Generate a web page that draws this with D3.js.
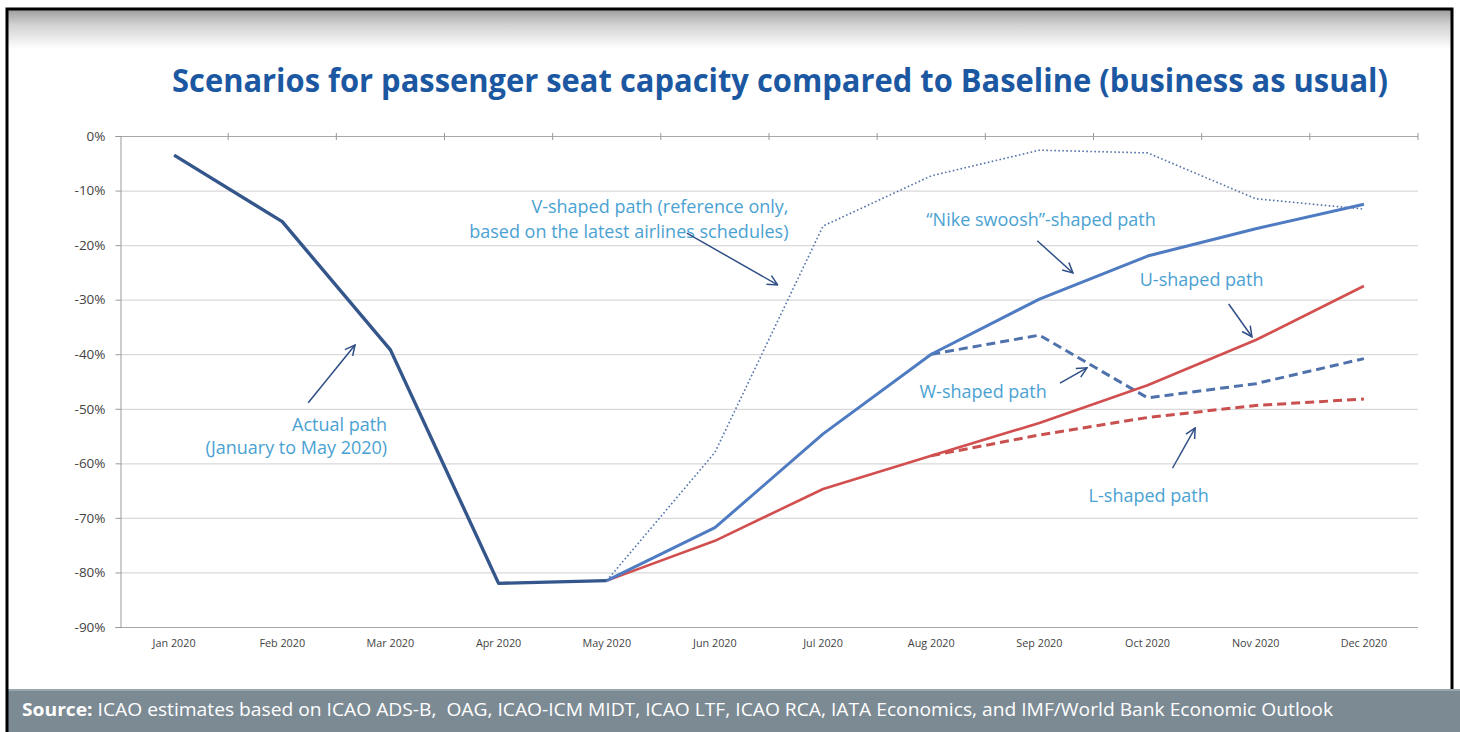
<!DOCTYPE html>
<html>
<head>
<meta charset="utf-8">
<script src="https://cdn.jsdelivr.net/npm/d3@7"></script>
<style>
  body { margin: 0; background: #fff; }
  svg { display: block; }
  .tick-label { font-family: "Open Sans", sans-serif; fill: #444; }
  .note { font-family: "Open Sans", sans-serif; font-size: 18px; fill: #4aa2d3; }
</style>
</head>
<body>
<svg id="chart" width="1460" height="732"></svg>
<script>
const months = ["Jan 2020", "Feb 2020", "Mar 2020", "Apr 2020", "May 2020", "Jun 2020",
  "Jul 2020", "Aug 2020", "Sep 2020", "Oct 2020", "Nov 2020", "Dec 2020"]
const yTicks = [0, -10, -20, -30, -40, -50, -60, -70, -80, -90]

// values in % vs baseline, first month index given by start
const actualPath = [-3.5, -15.7, -39.2, -82.0, -81.5] // Jan-May
const vShaped = [-81.5, -58.0, -16.5, -7.3, -2.6, -3.1, -11.5, -13.4] // May-Dec
const nikeSwoosh = [-81.5, -71.8, -54.6, -40.0, -29.9, -22.0, -17.0, -12.5] // May-Dec
const uShaped = [-81.5, -74.2, -64.7, -58.6, -52.6, -45.7, -37.4, -27.5] // May-Dec
const wShaped = [-40.0, -36.5, -48.0, -45.4, -40.8] // Aug-Dec
const lShaped = [-58.6, -54.8, -51.6, -49.4, -48.2] // Aug-Dec

const series = [
  { name: "V", values: vShaped, start: 4, color: "#5272aa", width: 1.6, dash: "1.6,2.4" },
  { name: "L", values: lShaped, start: 7, color: "#c9504e", width: 3, dash: "9,5" },
  { name: "W", values: wShaped, start: 7, color: "#4f72ad", width: 3, dash: "9,5" },
  { name: "U", values: uShaped, start: 4, color: "#d24f4f", width: 2.6, dash: null },
  { name: "Nike", values: nikeSwoosh, start: 4, color: "#4e7bc1", width: 3, dash: null },
  { name: "Actual", values: actualPath, start: 0, color: "#34568b", width: 3.4, dash: null },
]

// annotations in (month index, value) space
const notes = [
  { lines: ["Actual path", "(January to May 2020)"], x: 1.97, y: [-53.0, -57.2], anchor: "end", arrow: [[1.24, -48.9], [1.673, -38.3]] },
  { lines: ["V-shaped path (reference only,", "based on the latest airlines schedules)"], x: 5.68, y: [-13.0, -17.6], anchor: "end", arrow: [[4.74, -17.8], [5.58, -27.3]] },
  { lines: ["\u201cNike swoosh\u201d-shaped path"], x: 8.015, y: [-15.4], anchor: "middle", arrow: [[7.98, -19.2], [8.31, -25.1]] },
  { lines: ["U-shaped path"], x: 9.5, y: [-26.4], anchor: "middle", arrow: [[9.75, -30.8], [9.965, -36.8]] },
  { lines: ["W-shaped path"], x: 7.48, y: [-46.9], anchor: "middle", arrow: [[8.19, -45.3], [8.44, -42.5]] },
  { lines: ["L-shaped path"], x: 9.01, y: [-66.0], anchor: "middle", arrow: [[9.23, -60.9], [9.44, -53.5]] },
]

const svg = d3.select("#chart")
const W = 1460
const H = 732
const plotLeft = 120
const plotRight = 1418
const plotTop = 136
const plotBottom = 627

const x = d3.scaleBand().domain(months).range([plotLeft, plotRight]).padding(0)
const bw = x.bandwidth()
const xi = d3.scaleLinear().domain([0, 11]).range([x(months[0]) + bw / 2, x(months[11]) + bw / 2])
const y = d3.scaleLinear().domain([-90, 0]).range([plotBottom, plotTop])

// slide frame + top shading
const defs = svg.append("defs")
const grad = defs.append("linearGradient").attr("id", "topfade").attr("x1", 0).attr("x2", 0).attr("y1", 0).attr("y2", 1)
grad.append("stop").attr("offset", 0).attr("stop-color", "#9c9c9c")
grad.append("stop").attr("offset", 0.4).attr("stop-color", "#d2d2d2")
grad.append("stop").attr("offset", 1).attr("stop-color", "#ffffff")

defs.append("marker")
  .attr("id", "arrowhead")
  .attr("viewBox", "0 0 12 12")
  .attr("refX", 11)
  .attr("refY", 6)
  .attr("markerWidth", 12)
  .attr("markerHeight", 12)
  .attr("markerUnits", "userSpaceOnUse")
  .attr("orient", "auto")
  .append("path")
  .attr("d", "M1,1 L11,6 L1,11")
  .attr("fill", "none")
  .attr("stroke", "#2f4f86")
  .attr("stroke-width", 1.5)

svg.append("rect").attr("x", 0).attr("y", 0).attr("width", W).attr("height", H).attr("fill", "#fff")
svg.append("rect").attr("x", 8).attr("y", 9).attr("width", 1444).attr("height", 40).attr("fill", "url(#topfade)")

// title
svg.append("text")
  .attr("x", 172)
  .attr("y", 92)
  .attr("textLength", 1216)
  .attr("lengthAdjust", "spacingAndGlyphs")
  .style("font-family", "'Open Sans', sans-serif")
  .style("font-weight", "bold")
  .style("font-size", "32px")
  .style("fill", "#1c58a2")
  .text("Scenarios for passenger seat capacity compared to Baseline (business as usual)")

// gridlines
svg.append("g")
  .selectAll("line.grid")
  .data(yTicks)
  .join("line")
  .classed("grid", true)
  .attr("x1", plotLeft)
  .attr("x2", plotRight)
  .attr("y1", (d) => y(d) + 0.5)
  .attr("y2", (d) => y(d) + 0.5)
  .attr("stroke", (d) => (d === 0 || d === -90 ? "#a8a8a8" : "#d9d9d9"))
  .attr("stroke-width", 1.2)

// y axis
const yAxis = svg.append("g")
  .attr("transform", `translate(${plotLeft + 0.5},0)`)
  .call(d3.axisLeft(y).tickValues(yTicks).tickFormat((d) => d + "%").tickSize(5).tickPadding(10))
yAxis.select(".domain").attr("stroke", "#999")
yAxis.selectAll(".tick line").attr("stroke", "#999")
yAxis.selectAll(".tick text").attr("class", "tick-label").style("font-size", "13.5px").attr("fill", "#4a4a4a")

// category boundary ticks on the 0% line
svg.append("g")
  .selectAll("line.cat-tick")
  .data(d3.range(1, 13))
  .join("line")
  .classed("cat-tick", true)
  .attr("x1", (i) => plotLeft + i * bw)
  .attr("x2", (i) => plotLeft + i * bw)
  .attr("y1", y(0) - 3)
  .attr("y2", y(0) + 4)
  .attr("stroke", "#999")

// x labels
svg.append("g")
  .selectAll("text.xl")
  .data(months)
  .join("text")
  .attr("class", "tick-label xl")
  .attr("x", (d) => x(d) + bw / 2)
  .attr("y", plotBottom + 20)
  .attr("text-anchor", "middle")
  .style("font-size", "10.8px")
  .attr("fill", "#333")
  .text((d) => d)

// series lines
const line = d3.line().x((d) => xi(d.i)).y((d) => y(d.v))
svg.append("g")
  .selectAll("path.series")
  .data(series)
  .join("path")
  .classed("series", true)
  .attr("d", (s) => line(s.values.map((v, k) => ({ i: s.start + k, v }))))
  .attr("fill", "none")
  .attr("stroke", (s) => s.color)
  .attr("stroke-width", (s) => s.width)
  .attr("stroke-dasharray", (s) => s.dash)
  .attr("stroke-linejoin", "round")

// annotations
const noteG = svg.append("g").selectAll("g.note").data(notes).join("g")
noteG.each(function (n) {
  const g = d3.select(this)
  n.lines.forEach((t, k) => {
    g.append("text")
      .attr("class", "note")
      .attr("x", xi(n.x))
      .attr("y", y(n.y[k]))
      .attr("dy", "0.35em")
      .attr("text-anchor", n.anchor)
      .text(t)
  })
  g.append("line")
    .attr("x1", xi(n.arrow[0][0]))
    .attr("y1", y(n.arrow[0][1]))
    .attr("x2", xi(n.arrow[1][0]))
    .attr("y2", y(n.arrow[1][1]))
    .attr("stroke", "#2f4f86")
    .attr("stroke-width", 1.5)
    .attr("marker-end", "url(#arrowhead)")
})

// footer band
svg.append("rect").attr("x", 8).attr("y", 689).attr("width", W - 8).attr("height", H - 689).attr("fill", "#7c8a94")
svg.append("rect").attr("x", 8).attr("y", 689).attr("width", W - 8).attr("height", 2).attr("fill", "#9aa6ae")
const src = svg.append("text")
  .attr("x", 22)
  .attr("y", 716)
  .attr("textLength", 1311)
  .attr("lengthAdjust", "spacingAndGlyphs")
  .style("font-family", "'Open Sans', sans-serif")
  .style("font-size", "18px")
  .style("white-space", "pre")
  .style("fill", "#ffffff")
src.append("tspan").style("font-weight", "bold").text("Source:")
src.append("tspan").text(" ICAO estimates based on ICAO ADS-B,  OAG, ICAO-ICM MIDT, ICAO LTF, ICAO RCA, IATA Economics, and IMF/World Bank Economic Outlook")

// slide border
svg.append("path")
  .attr("d", `M7,732 V9 H1452 V689`)
  .attr("fill", "none")
  .attr("stroke", "#000")
  .attr("stroke-width", 3)
</script>
</body>
</html>
